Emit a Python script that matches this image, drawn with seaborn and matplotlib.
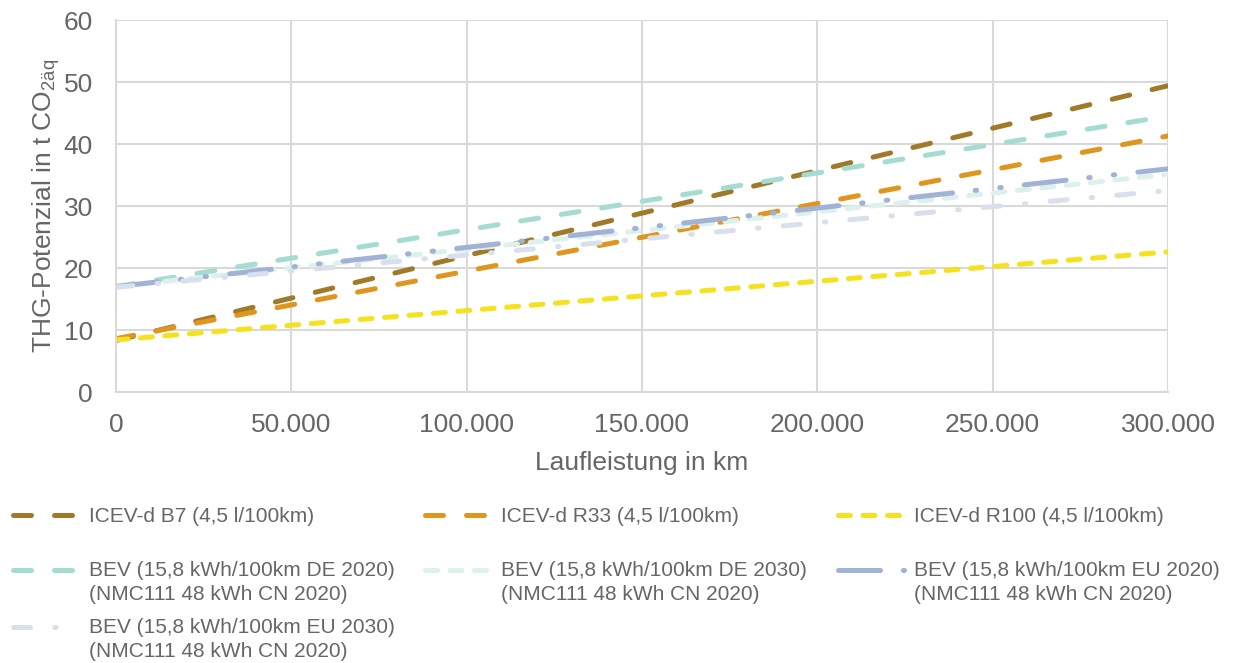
import numpy as np
import pandas as pd
import matplotlib
matplotlib.use("Agg")
import matplotlib.pyplot as plt
from matplotlib.legend_handler import HandlerLine2D
from matplotlib.ticker import FuncFormatter, MultipleLocator
import seaborn as sns

# Mileage (km) and greenhouse-gas potential (t CO2-eq) at start and end of use
km = [0, 300000]
icev_b7 = [8.3, 49.4]
icev_r33 = [8.6, 41.3]
icev_r100 = [8.4, 22.6]
bev_de_2020 = [17.0, 44.5]
bev_de_2030 = [17.0, 35.1]
bev_eu_2020 = [17.0, 36.0]
bev_eu_2030 = [16.9, 32.5]

labels = [
    "ICEV-d B7 (4,5 l/100km)",
    "ICEV-d R33 (4,5 l/100km)",
    "ICEV-d R100 (4,5 l/100km)",
    "BEV (15,8 kWh/100km DE 2020)\n(NMC111 48 kWh CN 2020)",
    "BEV (15,8 kWh/100km DE 2030)\n(NMC111 48 kWh CN 2020)",
    "BEV (15,8 kWh/100km EU 2020)\n(NMC111 48 kWh CN 2020)",
    "BEV (15,8 kWh/100km EU 2030)\n(NMC111 48 kWh CN 2020)",
]
series = [icev_b7, icev_r33, icev_r100, bev_de_2020, bev_de_2030, bev_eu_2020, bev_eu_2030]

colors = ["#A07A28", "#E0961E", "#F4E21E", "#A5DCD2", "#DCF0EC", "#A0B2D6", "#DADFEE"]
dash_patterns = [
    (3.6, 4.6),
    (3.6, 4.6),
    (2.4, 2.5),
    (3.6, 4.6),
    (2.4, 2.5),
    (8.4, 4.55, 0.3, 4.65, 0.3, 4.65),
    (3.4, 4.85, 0.3, 4.85),
]

df = pd.DataFrame({
    "km": np.tile(km, len(labels)),
    "thg": np.concatenate(series),
    "serie": np.repeat(labels, len(km)),
})

W, H, DPI = 1241, 663, 100
sns.set_theme(style="white")
plt.rcParams["font.family"] = ["Liberation Sans", "DejaVu Sans"]
plt.rcParams["mathtext.fontset"] = "custom"
plt.rcParams["mathtext.rm"] = "Liberation Sans"
plt.rcParams["mathtext.it"] = "Liberation Sans"
plt.rcParams["mathtext.bf"] = "Liberation Sans:bold"

text_color = "#666666"
grid_color = "#D9D9D9"

fig = plt.figure(figsize=(W / DPI, H / DPI), dpi=DPI)
ax = fig.add_axes([116 / W, 1 - 392 / H, (1168 - 116) / W, (392 - 20) / H])

sns.lineplot(
    data=df, x="km", y="thg", hue="serie", style="serie",
    hue_order=labels, style_order=labels,
    palette=dict(zip(labels, colors)),
    dashes=dict(zip(labels, dash_patterns)),
    linewidth=3.6, dash_capstyle="round", solid_capstyle="round",
    legend=False, ax=ax,
)

ax.set_xlim(0, 300000)
ax.set_ylim(0, 60)
ax.xaxis.set_major_locator(MultipleLocator(50000))
ax.yaxis.set_major_locator(MultipleLocator(10))
ax.xaxis.set_major_formatter(FuncFormatter(lambda v, p: f"{int(v):,}".replace(",", ".")))
ax.grid(True, color=grid_color, linewidth=1.5)
ax.set_axisbelow(True)
for side in ["top", "right"]:
    ax.spines[side].set_visible(False)
for side in ["left", "bottom"]:
    ax.spines[side].set_color(grid_color)
    ax.spines[side].set_linewidth(1.5)
ax.tick_params(axis="both", length=0, labelsize=19, labelcolor=text_color)
ax.tick_params(axis="x", pad=15)
ax.tick_params(axis="y", pad=16.5)

ax.set_xlabel("Laufleistung in km", fontsize=19, color=text_color)
ax.xaxis.set_label_coords(0.5, -(451 - 392) / 372)
ax.set_ylabel("THG-Potenzial in t CO$_{\\mathregular{2äq}}$", fontsize=19, color=text_color)
ax.yaxis.set_label_coords((62 - 116) / 1052, 0.5)


class FirstLineHandler(HandlerLine2D):
    """Raise the legend line so it sits next to the first text line."""

    def __init__(self, lift=0.0, **kw):
        super().__init__(**kw)
        self.lift = lift

    def create_artists(self, legend, orig_handle, xdescent, ydescent,
                       width, height, fontsize, trans):
        artists = super().create_artists(legend, orig_handle, xdescent, ydescent,
                                         width, height, fontsize, trans)
        for a in artists:
            a.set_ydata(np.asarray(a.get_ydata()) + self.lift)
        return artists


lines = ax.get_lines()[:len(labels)]
# (handle start x, text-block centre y) in pixels for each legend entry
slots = [(12.5, 517), (424.5, 517), (837.5, 517),
         (12.5, 582.5), (424.5, 582.5), (837.5, 582.5),
         (12.5, 639.5)]
for line, lab, (lx, ly) in zip(lines, labels, slots):
    lift = 9.0 if "\n" in lab else 0.0
    leg = fig.legend(
        handles=[line], labels=[lab], loc="center left",
        bbox_to_anchor=(lx / W, 1 - ly / H), bbox_transform=fig.transFigure,
        frameon=False, borderpad=0, borderaxespad=0,
        handlelength=3.2, handletextpad=0.45, fontsize=15,
        labelcolor=text_color,
        handler_map={line: FirstLineHandler(lift=lift)},
    )
    for t in leg.get_texts():
        t.set_linespacing(1.28)

fig.savefig("out.png", dpi=DPI)
